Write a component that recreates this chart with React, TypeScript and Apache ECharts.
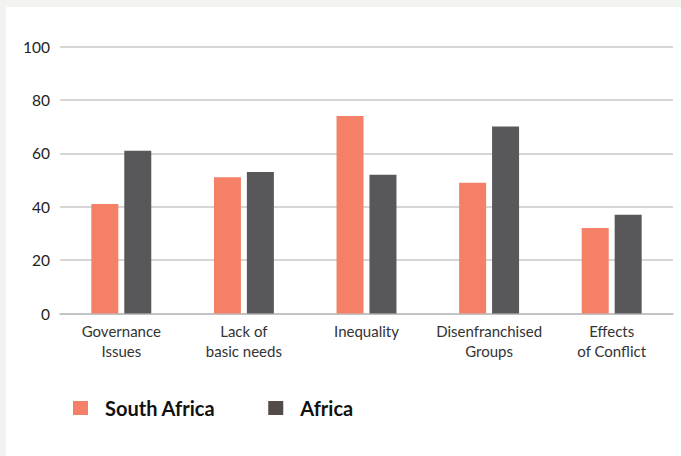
import React, { useEffect, useRef } from "react";
import * as echarts from "echarts";

const categories = ["Governance\nIssues", "Lack of\nbasic needs", "Inequality", "Disenfranchised\nGroups", "Effects\nof Conflict"];
const southAfrica = [41, 51, 74, 49, 32];
const africa = [61, 53, 52, 70, 37];
const seriesNames = ["South Africa", "Africa"];

export default function App() {
  const ref = useRef<HTMLDivElement>(null);
  useEffect(() => {
    const chart = echarts.init(ref.current!, null, { renderer: "svg" });
    const font = "Lato, 'Noto Sans', sans-serif";
    chart.setOption({
      animation: false,
      backgroundColor: "#ffffff",
      textStyle: { fontFamily: font },
      grid: { left: 54, right: 8, top: 39.5, bottom: 142.5 },
      legend: {
        left: 62,
        top: 386,
        itemWidth: 15,
        itemHeight: 14,
        itemGap: 53,
        icon: "rect",
        data: [
          { name: seriesNames[0], itemStyle: { color: "#f48068" } },
          { name: seriesNames[1], itemStyle: { color: "#524b47" } },
        ],
        textStyle: { fontSize: 20, fontWeight: "bold", color: "#111", fontFamily: font, padding: [0, 0, 0, 12] },
      },
      xAxis: {
        type: "category",
        data: categories,
        axisTick: { show: false },
        axisLine: { lineStyle: { color: "#bdbdbd", width: 1.5 } },
        axisLabel: { color: "#333", fontSize: 15, lineHeight: 20, margin: 7, interval: 0, fontFamily: font },
      },
      yAxis: {
        type: "value",
        min: 0,
        max: 100,
        interval: 20,
        axisLabel: { color: "#222", fontSize: 15.5, margin: 10, fontFamily: font },
        splitLine: { lineStyle: { color: "#c8c8c8", width: 1.5 } },
        axisLine: { show: false },
        axisTick: { show: false },
      },
      series: [
        { name: seriesNames[0], type: "bar", data: southAfrica, barWidth: 27, barGap: "22%", itemStyle: { color: "#f48068" } },
        { name: seriesNames[1], type: "bar", data: africa, barWidth: 27, barGap: "22%", itemStyle: { color: "#58585a" } },
      ],
    });
    return () => chart.dispose();
  }, []);
  return (
    <div style={{ position: "absolute", left: 0, top: 0, width: 681, height: 456, background: "#f2f2f0" }}>
      <div style={{ position: "absolute", left: 6, top: 7, width: 675, height: 449, background: "#fff" }}>
        <div ref={ref} style={{ width: 675, height: 449 }} />
      </div>
    </div>
  );
}
